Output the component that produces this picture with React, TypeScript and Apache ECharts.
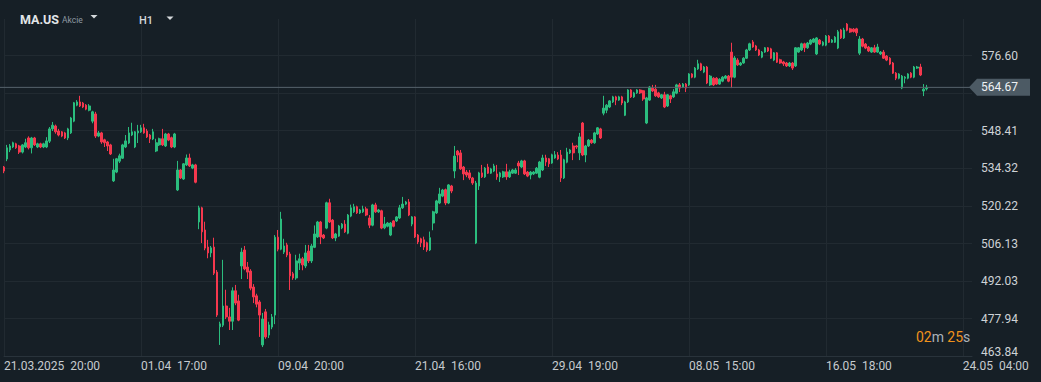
import React, { useEffect, useRef } from "react";
import * as echarts from "echarts";

// ---------- data ----------
const symbol = "MA.US";
const assetType = "Akcie";
const timeframe = "H1";
const timeLabels = [
  "21.03.2025  20:00",
  "01.04  17:00",
  "09.04  20:00",
  "21.04  16:00",
  "29.04  19:00",
  "08.05  15:00",
  "16.05  18:00",
  "24.05  04:00",
];
const labelStep = 45; // bars between time labels
const slotCount = 319; // bars + empty future slots
const priceMin = 463.84;
const priceStep = 14.0953;
const priceMax = 590.3;
const lastPrice = 564.67;
const countdownMin = "02";
const countdownSec = "25";

// [open, close, low, high]
const candles: number[][] = [
  [534.8, 533.3, 532.5, 535.2], [537.8, 542.0, 537.0, 543.1], [541.2, 542.7, 540.4, 543.4], [542.3, 543.9, 541.9, 544.3],
  [543.5, 542.0, 541.6, 543.9], [542.7, 540.4, 539.7, 543.1], [540.4, 543.1, 539.9, 543.4], [542.3, 543.9, 541.9, 545.4],
  [545.7, 542.0, 541.4, 546.3], [542.0, 545.7, 539.9, 546.1], [545.7, 543.1, 542.7, 546.1], [542.3, 543.5, 541.9, 543.9],
  [543.5, 542.3, 541.9, 543.9], [542.3, 543.5, 541.9, 543.9], [542.3, 544.6, 541.9, 546.0], [544.5, 549.1, 543.8, 549.8],
  [549.1, 550.5, 548.3, 551.7], [550.2, 548.0, 547.3, 550.7], [548.3, 546.8, 546.3, 549.1], [548.0, 546.4, 546.0, 548.3],
  [547.6, 545.7, 545.3, 548.0], [545.7, 549.1, 544.9, 549.5], [547.6, 553.2, 547.2, 553.6], [552.0, 558.9, 551.6, 559.2],
  [558.0, 559.2, 557.6, 559.9], [559.2, 557.7, 557.3, 561.5], [558.8, 557.3, 556.9, 559.2], [558.0, 556.5, 556.1, 558.4],
  [556.1, 557.7, 555.7, 558.4], [552.0, 555.5, 551.2, 555.9], [554.7, 546.4, 545.7, 555.5], [546.4, 547.6, 546.0, 548.3],
  [547.6, 544.2, 543.5, 548.0], [545.0, 543.9, 542.3, 545.4], [544.2, 542.7, 540.8, 544.6], [543.1, 539.7, 539.3, 543.5],
  [529.6, 533.7, 529.2, 537.9], [532.9, 537.9, 532.5, 538.2], [537.0, 539.0, 536.3, 539.8], [538.1, 543.1, 537.8, 543.5],
  [542.3, 544.6, 541.9, 546.8], [543.8, 547.6, 543.4, 549.8], [546.8, 548.0, 546.4, 551.4], [542.3, 548.0, 541.9, 548.3],
  [547.6, 548.3, 543.8, 550.6], [548.0, 549.5, 547.6, 550.6], [549.5, 547.6, 547.3, 551.0], [548.3, 546.1, 545.7, 549.1],
  [546.8, 545.3, 543.8, 547.2], [545.3, 548.0, 544.9, 549.1], [540.8, 543.9, 540.4, 545.4], [543.1, 545.4, 542.7, 545.8],
  [545.4, 543.1, 542.7, 549.1], [542.7, 547.2, 542.3, 547.6], [547.2, 544.9, 544.5, 547.6], [545.8, 542.3, 541.9, 546.2],
  [542.3, 547.2, 541.9, 547.6], [526.2, 533.7, 525.8, 537.1], [533.7, 530.7, 530.3, 534.0], [530.3, 536.0, 530.0, 536.3],
  [535.6, 538.2, 535.2, 539.5], [538.2, 535.2, 534.8, 539.8], [534.4, 535.6, 534.0, 536.0], [535.6, 529.1, 528.7, 536.0],
  [514.2, 519.5, 511.5, 520.3], [519.5, 510.5, 506.3, 519.9], [511.2, 504.4, 503.6, 514.3], [504.8, 502.6, 500.6, 507.5],
  [502.6, 504.5, 501.0, 505.2], [504.8, 495.0, 494.3, 508.3], [495.4, 479.3, 478.6, 496.2], [474.9, 476.0, 468.1, 476.8],
  [475.5, 482.7, 474.8, 500.0], [482.7, 478.6, 477.8, 488.8], [478.6, 477.0, 473.7, 482.0], [477.0, 488.4, 473.7, 489.7],
  [488.4, 483.8, 483.0, 490.6], [484.6, 477.4, 477.0, 486.9], [497.7, 502.9, 492.8, 504.5], [503.7, 496.6, 496.1, 505.2],
  [497.3, 495.4, 492.8, 499.2], [495.8, 489.4, 488.6, 496.5], [489.8, 486.1, 483.8, 490.9], [486.5, 483.4, 482.2, 487.3],
  [484.2, 479.3, 471.1, 484.9], [468.1, 477.8, 467.3, 480.1], [480.5, 471.1, 470.4, 481.6], [471.8, 475.6, 470.7, 476.8],
  [474.8, 478.6, 474.0, 479.7], [479.3, 508.5, 475.9, 509.3], [508.5, 504.0, 503.2, 511.2], [504.0, 515.3, 503.6, 518.0],
  [502.9, 505.2, 502.2, 507.9], [505.6, 501.8, 501.0, 506.4], [502.2, 494.0, 488.7, 503.0], [494.8, 493.2, 492.5, 495.5],
  [493.2, 499.6, 492.5, 501.9], [498.8, 500.4, 496.2, 502.3], [500.4, 498.1, 496.1, 501.1], [497.7, 502.6, 496.9, 505.6],
  [503.3, 499.6, 498.8, 505.6], [499.6, 505.2, 498.8, 506.0], [504.7, 509.7, 504.4, 512.9], [508.6, 514.2, 508.2, 514.6],
  [514.2, 508.6, 505.9, 514.6], [509.3, 508.2, 507.8, 509.7], [511.9, 521.4, 511.5, 521.8], [521.4, 514.2, 513.8, 522.9],
  [514.9, 508.2, 507.8, 515.3], [508.2, 509.7, 507.0, 510.1], [508.9, 512.7, 508.6, 513.1], [512.0, 513.4, 511.5, 513.8],
  [513.4, 510.5, 510.1, 514.9], [510.0, 516.8, 509.6, 517.2], [516.4, 519.5, 516.0, 520.7], [518.0, 519.9, 517.6, 521.0],
  [519.9, 517.6, 517.2, 520.3], [517.6, 518.7, 517.2, 519.1], [518.0, 519.1, 517.6, 520.3], [519.1, 516.8, 516.4, 519.9],
  [515.7, 513.0, 511.9, 516.8], [513.0, 520.6, 512.6, 521.0], [520.6, 518.0, 517.6, 521.4], [518.0, 518.7, 517.6, 519.1],
  [518.4, 511.9, 511.5, 518.8], [512.0, 513.4, 511.5, 516.1], [512.6, 513.8, 512.2, 514.2], [509.3, 513.8, 508.9, 514.2],
  [514.6, 512.6, 512.2, 514.9], [514.6, 516.1, 514.2, 516.4], [515.7, 519.5, 515.3, 520.6], [519.5, 520.9, 519.1, 523.6],
  [520.9, 521.7, 520.5, 522.1], [521.7, 516.8, 516.4, 522.8], [513.4, 516.1, 512.6, 516.4], [516.1, 508.6, 508.2, 516.4],
  [509.3, 506.7, 505.9, 509.7], [507.9, 506.4, 504.8, 508.3], [507.5, 504.8, 503.7, 508.7], [506.4, 503.7, 503.0, 506.8],
  [503.7, 508.3, 503.3, 510.6], [513.8, 518.0, 511.1, 518.4], [517.6, 522.1, 517.2, 522.5], [521.3, 524.7, 520.9, 527.0],
  [523.9, 526.2, 523.5, 526.6], [526.3, 521.3, 520.5, 526.7], [521.3, 528.1, 520.9, 528.4], [527.7, 525.8, 525.0, 528.1],
  [533.3, 538.9, 530.6, 542.7], [540.8, 539.3, 536.6, 541.2], [540.1, 534.1, 533.7, 541.2], [534.8, 532.2, 529.9, 535.2],
  [532.9, 531.8, 531.0, 533.7], [532.6, 530.7, 530.0, 533.7], [530.7, 528.8, 528.1, 531.1], [506.3, 528.8, 505.9, 529.6],
  [527.7, 532.6, 526.2, 533.0], [532.6, 531.1, 530.7, 535.6], [531.1, 534.4, 530.7, 534.8], [534.8, 532.5, 532.2, 536.0],
  [532.5, 534.1, 532.2, 534.5], [533.3, 535.2, 532.9, 536.0], [532.2, 531.1, 530.0, 535.6], [531.1, 532.6, 529.2, 533.0],
  [531.1, 533.0, 530.7, 533.4], [533.0, 531.1, 530.0, 536.0], [531.1, 533.0, 530.7, 533.8], [532.5, 533.7, 532.2, 534.1],
  [532.5, 533.7, 532.2, 534.4], [536.3, 535.2, 531.8, 537.1], [534.8, 537.1, 534.4, 537.5], [537.1, 532.2, 531.8, 537.5],
  [532.9, 531.4, 531.0, 533.3], [531.8, 532.9, 530.2, 533.3], [532.2, 532.9, 531.8, 533.3], [532.5, 534.4, 532.2, 534.8],
  [531.0, 536.7, 530.6, 537.1], [533.7, 538.2, 533.3, 539.4], [538.2, 536.7, 535.2, 539.4], [537.9, 536.0, 534.8, 538.2],
  [536.3, 539.4, 536.0, 539.8], [538.2, 539.4, 537.9, 540.8], [539.3, 537.8, 537.4, 540.4], [539.3, 530.7, 529.2, 541.2],
  [530.7, 537.5, 530.3, 537.9], [536.6, 540.4, 536.2, 542.0], [540.1, 541.2, 539.7, 541.6], [542.7, 540.1, 537.4, 543.9],
  [542.7, 542.3, 541.6, 543.1], [540.1, 546.1, 537.4, 547.6], [551.3, 539.3, 538.9, 551.7], [539.3, 542.7, 536.6, 543.1],
  [542.7, 544.9, 542.3, 545.3], [544.9, 543.9, 543.5, 545.3], [543.9, 547.6, 543.5, 548.0], [547.2, 549.5, 546.8, 549.8],
  [549.1, 545.7, 545.3, 549.5], [555.0, 556.9, 554.2, 561.5], [556.1, 558.0, 555.0, 558.4], [557.3, 559.6, 556.9, 559.9],
  [559.2, 561.1, 558.8, 561.5], [561.1, 559.9, 558.0, 561.5], [559.9, 561.1, 559.6, 561.5], [561.1, 558.8, 558.0, 561.5],
  [554.2, 559.2, 553.9, 559.6], [559.2, 563.7, 558.8, 564.0], [563.7, 561.1, 560.7, 564.0], [561.1, 562.6, 560.7, 563.0],
  [562.6, 563.7, 562.2, 564.0], [563.7, 562.6, 562.2, 564.0], [563.4, 560.3, 559.6, 563.7], [551.3, 560.7, 550.9, 561.1],
  [559.9, 564.8, 559.6, 565.2], [564.4, 563.3, 562.9, 565.6], [564.0, 561.5, 561.1, 565.6], [562.6, 561.1, 560.7, 563.0],
  [560.7, 561.9, 560.3, 562.2], [561.9, 557.3, 556.9, 563.0], [557.7, 561.9, 557.3, 562.2], [561.5, 560.3, 558.8, 561.9],
  [561.1, 563.0, 560.7, 564.0], [562.5, 565.6, 562.1, 566.0], [565.6, 564.4, 562.9, 566.3], [564.8, 565.9, 564.4, 566.3],
  [565.9, 564.4, 562.9, 566.3], [565.6, 569.7, 565.2, 570.0], [569.7, 568.5, 568.1, 570.0], [568.5, 571.9, 568.1, 572.3],
  [571.6, 573.5, 571.2, 575.0], [573.5, 571.2, 570.8, 573.9], [570.4, 572.3, 570.0, 572.7], [572.3, 566.3, 565.9, 572.7],
  [565.6, 568.9, 565.2, 569.3], [568.1, 565.6, 565.2, 568.5], [568.1, 565.9, 565.6, 568.5], [565.9, 567.7, 565.6, 568.1],
  [567.0, 568.5, 566.6, 568.9], [568.1, 568.9, 567.7, 569.3], [568.9, 567.0, 566.6, 569.3], [577.9, 568.5, 564.4, 581.4],
  [568.5, 575.7, 568.1, 576.4], [574.9, 573.1, 572.7, 575.6], [573.1, 573.8, 572.7, 574.2], [573.8, 575.6, 573.5, 576.0],
  [575.6, 578.7, 575.3, 579.1], [578.7, 581.0, 578.3, 581.4], [581.7, 579.8, 579.5, 582.4], [580.2, 578.7, 578.3, 580.6],
  [578.7, 576.8, 576.4, 579.1], [576.0, 577.9, 575.6, 578.3], [577.9, 579.5, 577.6, 579.8], [579.5, 578.3, 577.9, 579.8],
  [579.1, 575.6, 575.3, 579.5], [574.9, 577.6, 574.5, 577.9], [577.6, 574.1, 573.8, 577.9], [575.0, 573.8, 573.5, 575.4],
  [574.2, 573.5, 572.7, 574.6], [573.8, 572.7, 572.3, 574.2], [572.7, 573.8, 572.3, 574.2], [573.8, 571.9, 571.2, 574.2],
  [572.7, 579.5, 572.3, 579.8], [577.9, 579.5, 577.6, 579.8], [578.7, 581.0, 578.3, 581.4], [581.0, 579.5, 577.9, 581.4],
  [579.5, 581.3, 579.1, 581.7], [580.9, 582.4, 580.5, 582.8], [581.6, 582.8, 581.3, 583.2], [577.2, 583.2, 576.8, 583.5],
  [582.4, 580.9, 580.5, 582.8], [580.5, 581.6, 580.1, 582.0], [580.5, 583.9, 580.1, 584.3], [583.9, 581.6, 581.3, 584.3],
  [581.6, 582.4, 581.3, 582.8], [581.6, 583.5, 581.3, 583.9], [579.4, 585.5, 579.0, 586.2], [586.2, 583.2, 582.8, 586.6],
  [583.2, 586.2, 582.8, 587.0], [588.4, 586.1, 585.7, 588.8], [586.6, 585.4, 585.1, 587.0], [586.5, 585.6, 585.2, 586.9],
  [586.6, 585.1, 583.9, 587.0], [577.5, 582.8, 576.8, 583.9], [582.8, 580.1, 579.7, 583.2], [580.9, 579.4, 579.0, 581.3],
  [579.8, 578.3, 577.9, 580.2], [577.9, 579.5, 577.6, 579.8], [579.5, 577.9, 577.6, 580.6], [577.9, 579.8, 577.6, 581.0],
  [577.2, 577.9, 576.8, 578.3], [577.9, 575.6, 575.3, 578.7], [576.4, 574.9, 574.5, 576.8], [575.6, 573.4, 573.0, 576.0],
  [573.8, 570.0, 569.7, 574.2], [570.0, 568.1, 567.4, 570.4], [568.1, 569.7, 567.7, 570.0], [564.4, 568.9, 564.0, 569.3],
  [568.1, 568.5, 566.2, 568.9], [568.1, 569.7, 567.7, 570.0], [570.0, 568.5, 568.1, 570.4], [568.5, 572.3, 568.1, 572.7],
  [571.9, 572.3, 571.6, 572.7], [572.3, 569.3, 568.9, 573.5], [563.3, 564.0, 561.4, 565.9], [564.1, 564.67, 563.5, 565.6],
];

// ---------- styles ----------
const BG = "#161f26";
const GRID = "#212a31";
const UP = "#2bbd7e";
const DOWN = "#f5384e";
const TEXT = "#c6cbcf";
const FONT = "Roboto, 'Noto Sans', sans-serif";

export default function App() {
  const ref = useRef<HTMLDivElement>(null);

  useEffect(() => {
    if (!ref.current) return;
    const chart = echarts.init(ref.current, undefined, { renderer: "svg" });
    const categories = Array.from({ length: slotCount }, (_, i) => String(i));

    chart.setOption({
      animation: false,
      backgroundColor: BG,
      grid: { left: 4, right: 69, top: 19, bottom: 25.7, containLabel: false },
      xAxis: {
        type: "category",
        data: categories,
        boundaryGap: false,
        axisLine: { show: true, lineStyle: { color: "#29333b", width: 1 } },
        axisTick: { show: false },
        axisLabel: {
          interval: (i: number) => i % labelStep === 0,
          formatter: (_v: string, i: number) =>
            i % labelStep === 0 ? timeLabels[i / labelStep] ?? "" : "",
          align: "left",
          margin: 4,
          color: TEXT,
          fontSize: 12,
          fontFamily: FONT,
        },
        splitLine: {
          show: true,
          interval: (i: number) => i % labelStep === 0,
          lineStyle: { color: GRID, width: 1 },
        },
      },
      yAxis: {
        type: "value",
        position: "right",
        min: priceMin,
        max: priceMax,
        interval: priceStep,
        scale: true,
        axisLine: { show: false },
        axisTick: { show: false },
        splitLine: {
          show: true,
          showMinLine: false,
          showMaxLine: false,
          lineStyle: { color: GRID, width: 1 },
        },
        axisLabel: {
          showMaxLabel: false,
          margin: 9,
          color: "#ced2d6",
          fontSize: 12,
          fontFamily: FONT,
          formatter: (v: number) => {
            if (v > priceMax - 0.5) return "";
            if (Math.abs(v - lastPrice) < 4) return "";
            if (Math.abs(v - priceMin) < 0.01) return "{lo|" + v.toFixed(2) + "}";
            return v.toFixed(2);
          },
          rich: {
            lo: {
              padding: [0, 0, 8, 0],
              color: "#ced2d6",
              fontSize: 12,
              fontFamily: FONT,
            },
          },
        },
      },
      series: [
        {
          type: "candlestick",
          data: candles,
          barWidth: 2.1,
          itemStyle: {
            color: UP,
            color0: DOWN,
            borderColor: UP,
            borderColor0: DOWN,
            borderColorDoji: UP,
            borderWidth: 1,
          },
        },
      ],
    });

    const py = chart.convertToPixel({ yAxisIndex: 0 }, lastPrice) as number;
    chart.setOption({
      graphic: [
        // header
        {
          type: "text",
          left: 20,
          top: 13,
          style: { text: symbol, fill: "#e2e5e8", font: `bold 12.5px ${FONT}` },
        },
        {
          type: "text",
          left: 62,
          top: 15,
          style: { text: assetType, fill: "#8e99a2", font: `8.5px ${FONT}` },
        },
        {
          type: "polygon",
          shape: { points: [[90.5, 15], [97.5, 15], [94, 18.5]] },
          style: { fill: "#d5d9dc" },
        },
        {
          type: "text",
          left: 139,
          top: 15,
          style: { text: timeframe, fill: "#d3d7da", font: `500 11px ${FONT}` },
        },
        {
          type: "polygon",
          shape: { points: [[166.5, 16.5], [173.5, 16.5], [170, 20]] },
          style: { fill: "#d5d9dc" },
        },
        // current price line and tag
        {
          type: "line",
          shape: { x1: 0, y1: py, x2: 970, y2: py },
          style: { stroke: "#56636c", lineWidth: 1 },
          z: 50,
        },
        {
          type: "polygon",
          shape: {
            points: [
              [969, py],
              [977, py - 8.5],
              [1030, py - 8.5],
              [1030, py + 8.5],
              [977, py + 8.5],
            ],
          },
          style: { fill: "#4c5a64" },
          z: 50,
        },
        {
          type: "text",
          x: 981,
          y: py,
          style: {
            text: lastPrice.toFixed(2),
            fill: "#eef1f3",
            font: `12px ${FONT}`,
            verticalAlign: "middle",
            align: "left",
          },
          z: 51,
        },
        // countdown
        {
          type: "text",
          x: 916,
          y: 337,
          style: {
            text: `{o|${countdownMin}}{g|m} {o|${countdownSec}}{g|s}`,
            verticalAlign: "middle",
            align: "left",
            rich: {
              o: { fill: "#f0921c", font: `14px ${FONT}` },
              g: { fill: "#a9b2b9", font: `14px ${FONT}` },
            },
          },
          z: 51,
        },
      ],
    });

    return () => chart.dispose();
  }, []);

  return (
    <div
      ref={ref}
      style={{
        position: "fixed",
        left: 0,
        top: 0,
        width: 1041,
        height: 382,
        background: BG,
      }}
    />
  );
}
